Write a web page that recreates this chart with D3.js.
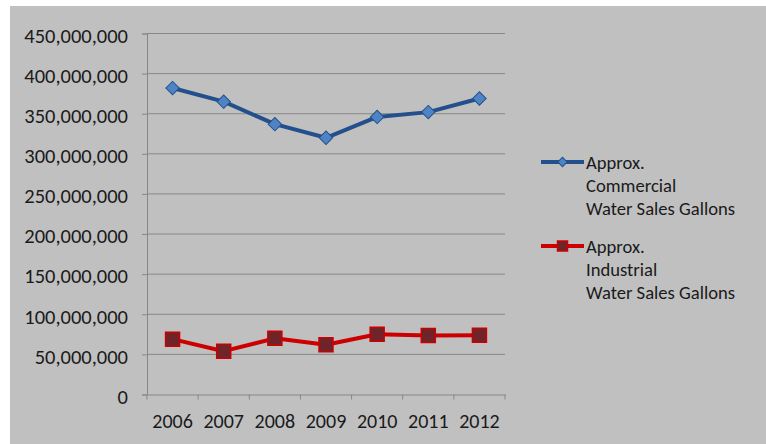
<!DOCTYPE html>
<html><head><meta charset="utf-8">
<script src="https://cdn.jsdelivr.net/npm/d3@7"></script>
<style>html,body{margin:0;padding:0;background:#fff;}svg{display:block;}</style>
</head><body>
<svg id="chart" width="766" height="444"></svg>
<script>
const years = ["2006","2007","2008","2009","2010","2011","2012"];
const commercial = [382000000,365000000,337000000,320000000,346000000,352000000,369000000];
const industrial = [69000000,54000000,70000000,62000000,75000000,73500000,74000000];
const yTicks = [0,50000000,100000000,150000000,200000000,250000000,300000000,350000000,400000000,450000000];
const seriesNames = [["Approx.","Commercial","Water Sales Gallons"],["Approx.","Industrial","Water Sales Gallons"]];

const svg = d3.select("#chart");
const FONT = "Carlito, Lato, 'Liberation Sans', sans-serif";
svg.append("rect").attr("x",10).attr("y",6).attr("width",756).attr("height",438).attr("fill","#c0c0c0");

const pLeft = 147, pRight = 505, pTop = 33.5, pBottom = 394.5;
const x = d3.scaleBand().domain(years).range([pLeft, pRight]);
const y = d3.scaleLinear().domain([0,450000000]).range([pBottom, pTop]);

// gridlines
svg.append("g").selectAll("line").data(yTicks.filter(d=>d>0)).join("line")
  .attr("x1",pLeft).attr("x2",pRight).attr("y1",d=>y(d)).attr("y2",d=>y(d))
  .attr("stroke","#878787").attr("stroke-width",1);

// y axis
const yAxis = svg.append("g").attr("transform",`translate(${pLeft},0)`)
  .call(d3.axisLeft(y).tickValues(yTicks).tickSize(5).tickPadding(14).tickFormat(d3.format(",")));
yAxis.select(".domain").attr("stroke","#878787");
yAxis.selectAll(".tick line").attr("stroke","#878787");
yAxis.selectAll("text").attr("font-family",FONT).attr("font-size",20.5).attr("dy","0.43em").attr("fill","#1a1a1a");

// x axis
const xAxis = svg.append("g").attr("transform",`translate(0,${pBottom})`)
  .call(d3.axisBottom(x).tickSize(0).tickPadding(19));
xAxis.select(".domain").attr("stroke","#878787");
xAxis.selectAll("text").attr("font-family",FONT).attr("font-size",20).attr("fill","#1a1a1a");
svg.append("g").selectAll("line").data(years.concat(["end"])).join("line")
  .attr("x1",(d,i)=> i<years.length ? x(d) : pRight).attr("x2",(d,i)=> i<years.length ? x(d) : pRight)
  .attr("y1",pBottom).attr("y2",pBottom+5).attr("stroke","#878787");

const cx = d => x(d) + x.bandwidth()/2;
const line = d3.line().x((d,i)=>cx(years[i])).y(d=>y(d));

// commercial
svg.append("path").datum(commercial).attr("d",line).attr("fill","none")
  .attr("stroke","#23508c").attr("stroke-width",4).attr("stroke-linejoin","round");
const diamond = d3.symbol().type(d3.symbolSquare).size(90)();
svg.append("g").selectAll("path").data(commercial).join("path")
  .attr("d",diamond).attr("transform",(d,i)=>`translate(${cx(years[i])},${y(d)}) rotate(45)`)
  .attr("fill","#4f84c4").attr("stroke","#23508c").attr("stroke-width",1);

// industrial
svg.append("path").datum(industrial).attr("d",line).attr("fill","none")
  .attr("stroke","#cc0000").attr("stroke-width",4).attr("stroke-linejoin","round");
const sq = d3.symbol().type(d3.symbolSquare).size(196)();
svg.append("g").selectAll("path").data(industrial).join("path")
  .attr("d",sq).attr("transform",(d,i)=>`translate(${cx(years[i])},${y(d)})`)
  .attr("fill","#6e2428").attr("stroke","#cc0000").attr("stroke-width",1.5);

// legend
const legY = [162, 246];
const colors = [["#23508c","#4f84c4"],["#cc0000","#6e2428"]];
legY.forEach((ly,k)=>{
  const g = svg.append("g");
  g.append("line").attr("x1",541).attr("x2",584).attr("y1",ly).attr("y2",ly)
    .attr("stroke",colors[k][0]).attr("stroke-width",4);
  if(k===0){
    g.append("path").attr("d",d3.symbol().type(d3.symbolSquare).size(45)())
      .attr("transform",`translate(562.5,${ly}) rotate(45)`).attr("fill",colors[k][1]).attr("stroke",colors[k][0]);
  } else {
    g.append("path").attr("d",d3.symbol().type(d3.symbolSquare).size(100)())
      .attr("transform",`translate(562.5,${ly})`).attr("fill",colors[k][1]).attr("stroke",colors[k][0]).attr("stroke-width",1.5);
  }
  seriesNames[k].forEach((t,j)=>{
    g.append("text").attr("x",586).attr("y",ly + 6.5 + j*23.2)
      .attr("font-family",FONT).attr("font-size",18.6).attr("fill","#1a1a1a").text(t);
  });
});
</script>
</body></html>
